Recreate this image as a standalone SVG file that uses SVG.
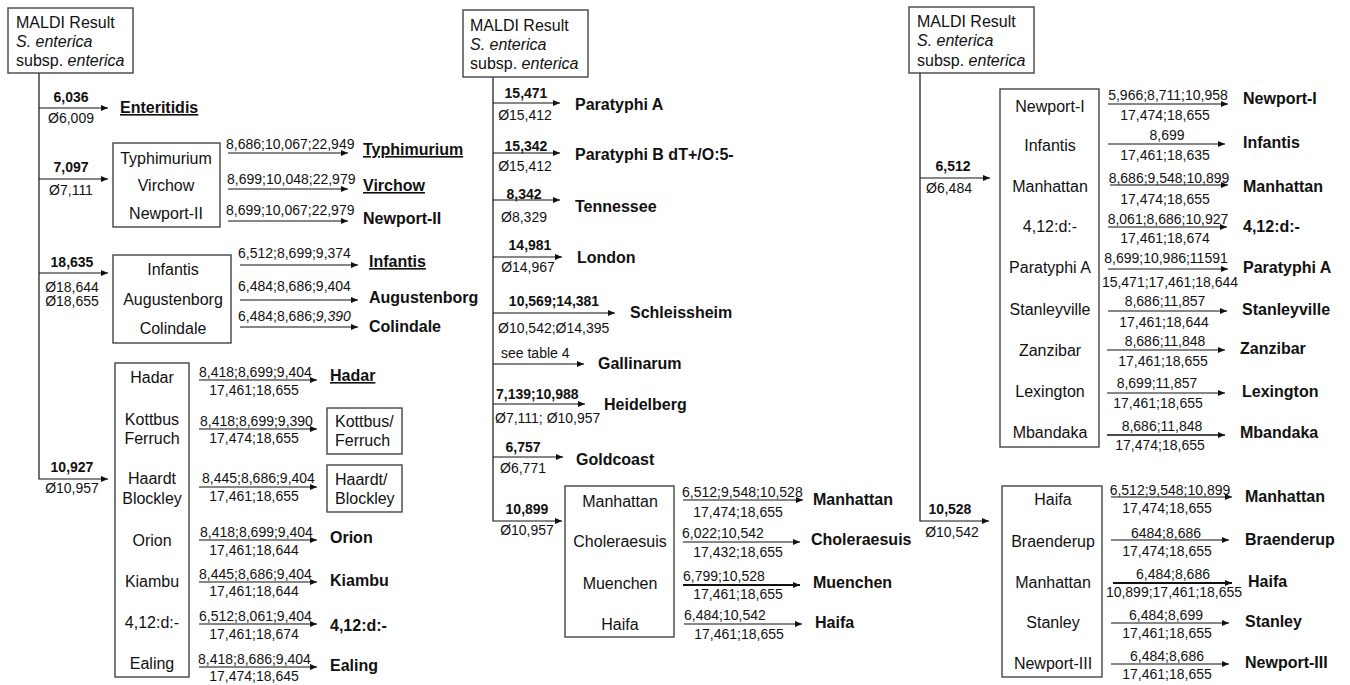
<svg xmlns="http://www.w3.org/2000/svg" width="1350" height="685" viewBox="0 0 1350 685">
<defs>
<marker id="ah" markerWidth="7" markerHeight="6" refX="7" refY="3" orient="auto" markerUnits="userSpaceOnUse"><path d="M0,0 L7,3 L0,6 z" fill="#111"/></marker>
<style>
text{font-family:"Liberation Sans",Arial,sans-serif;fill:#111}
.bx{fill:#fff;stroke:#444;stroke-width:1.4}
.ln{fill:none;stroke:#111;stroke-width:1.2;marker-end:url(#ah)}
.n{font-size:16px}
.r{font-size:16px;font-weight:bold}
.u{text-decoration:underline}
.b{font-size:14px;font-weight:bold}
.s{font-size:14px}
.m{text-anchor:middle}
</style>
</defs>
<rect width="1350" height="685" fill="#fff"/>

<!-- ===== connectors ===== -->
<g id="connectors">
<!-- left -->
<polyline class="ln" points="39,73 39,479 108,479"/>
<line class="ln" x1="39" y1="108" x2="108" y2="108"/>
<line class="ln" x1="39" y1="179" x2="108" y2="179"/>
<line class="ln" x1="39" y1="273" x2="108" y2="273"/>
<line class="ln" x1="228" y1="153" x2="348" y2="153"/>
<line class="ln" x1="228" y1="189" x2="348" y2="189"/>
<line class="ln" x1="228" y1="221" x2="348" y2="221"/>
<line class="ln" x1="240" y1="265" x2="358" y2="265"/>
<line class="ln" x1="240" y1="300" x2="358" y2="300"/>
<line class="ln" x1="240" y1="327" x2="358" y2="327"/>
<line class="ln" x1="199" y1="380" x2="317" y2="380"/>
<line class="ln" x1="199" y1="429" x2="317" y2="429"/>
<line class="ln" x1="199" y1="487" x2="317" y2="487"/>
<line class="ln" x1="199" y1="540" x2="317" y2="540"/>
<line class="ln" x1="199" y1="582" x2="317" y2="582"/>
<line class="ln" x1="199" y1="624" x2="317" y2="624"/>
<line class="ln" x1="199" y1="667" x2="317" y2="667"/>
<!-- middle -->
<polyline class="ln" points="493,77 493,521 562,521"/>
<line class="ln" x1="493" y1="103" x2="560" y2="103"/>
<line class="ln" x1="493" y1="153" x2="560" y2="153"/>
<line class="ln" x1="493" y1="200" x2="560" y2="200"/>
<line class="ln" x1="493" y1="257" x2="562" y2="257"/>
<line class="ln" x1="493" y1="313" x2="615" y2="313"/>
<line class="ln" x1="493" y1="364" x2="584" y2="364"/>
<line class="ln" x1="493" y1="404" x2="585" y2="404"/>
<line class="ln" x1="493" y1="457" x2="563" y2="457"/>
<line class="ln" x1="683" y1="500" x2="803" y2="500"/>
<line class="ln" x1="683" y1="542" x2="800" y2="542"/>
<line class="ln" x1="683" y1="585" x2="800" y2="585" style="stroke-width:1.8"/>
<line class="ln" x1="684" y1="624" x2="802" y2="624"/>
<!-- right -->
<polyline class="ln" points="920,73 920,521 989,521"/>
<line class="ln" x1="920" y1="178" x2="990" y2="178"/>
<line class="ln" x1="1108" y1="104" x2="1228" y2="104"/>
<line class="ln" x1="1108" y1="144" x2="1225" y2="144"/>
<line class="ln" x1="1110" y1="185" x2="1228" y2="185"/>
<line class="ln" x1="1108" y1="227" x2="1227" y2="227"/>
<line class="ln" x1="1108" y1="269" x2="1228" y2="269"/>
<line class="ln" x1="1108" y1="311" x2="1227" y2="311"/>
<line class="ln" x1="1107" y1="350" x2="1225" y2="350"/>
<line class="ln" x1="1107" y1="393" x2="1225" y2="393"/>
<line class="ln" x1="1107" y1="435" x2="1225" y2="435" style="stroke-width:1.6"/>
<line class="ln" x1="1111" y1="497" x2="1232" y2="497"/>
<line class="ln" x1="1111" y1="540" x2="1229" y2="540"/>
<line class="ln" x1="1113" y1="583" x2="1232" y2="583" style="stroke-width:1.8"/>
<line class="ln" x1="1111" y1="623" x2="1229" y2="623"/>
<line class="ln" x1="1111" y1="664" x2="1229" y2="664"/>

<!-- connector labels left -->
<text class="b m" x="71" y="102">6,036</text>
<text class="s m" x="71" y="123">Ø6,009</text>
<text class="b m" x="71" y="172">7,097</text>
<text class="s m" x="71" y="195">Ø7,111</text>
<text class="b m" x="72" y="267">18,635</text>
<text class="s m" x="72" y="292">Ø18,644</text>
<text class="s m" x="72" y="306">Ø18,655</text>
<text class="b m" x="72" y="472">10,927</text>
<text class="s m" x="72" y="493">Ø10,957</text>
<text class="s" x="226" y="149">8,686;10,067;22,949</text>
<text class="s" x="227" y="184">8,699;10,048;22,979</text>
<text class="s" x="226" y="215">8,699;10,067;22,979</text>
<text class="s" x="238" y="258">6,512;8,699;9,374</text>
<text class="s" x="238" y="291">6,484;8,686;9,404</text>
<text class="s" x="238" y="321">6,484;8,686;<tspan font-style="italic">9,390</tspan></text>
<text class="s" x="199" y="377">8,418;8,699;9,404</text>
<text class="s m" x="254" y="395">17,461;18,655</text>
<text class="s" x="200" y="426">8,418;8,699;9,390</text>
<text class="s m" x="254" y="443">17,474;18,655</text>
<text class="s" x="202" y="483">8,445;8,686;9,404</text>
<text class="s m" x="254" y="501">17,461;18,655</text>
<text class="s" x="200" y="537">8,418;8,699;9,404</text>
<text class="s m" x="254" y="555">17,461;18,644</text>
<text class="s" x="199" y="579">8,445;8,686;9,404</text>
<text class="s m" x="254" y="596">17,461;18,644</text>
<text class="s" x="199" y="621">6,512;8,061;9,404</text>
<text class="s m" x="254" y="639">17,461;18,674</text>
<text class="s" x="198" y="664">8,418;8,686;9,404</text>
<text class="s m" x="254" y="681">17,474;18,645</text>

<!-- connector labels middle -->
<text class="b m" x="526" y="98">15,471</text>
<text class="s m" x="525" y="120">Ø15,412</text>
<text class="b m" x="526" y="151">15,342</text>
<text class="s m" x="525" y="171">Ø15,412</text>
<text class="b m" x="524" y="199">8,342</text>
<text class="s m" x="524" y="222">Ø8,329</text>
<text class="b m" x="530" y="250">14,981</text>
<text class="s m" x="528" y="272">Ø14,967</text>
<text class="b m" x="554" y="306">10,569;14,381</text>
<text class="s" x="498" y="333">Ø10,542;Ø14,395</text>
<text class="s" x="501" y="358">see table 4</text>
<text class="b" x="496" y="399">7,139;10,988</text>
<text class="s" x="495" y="423">Ø7,111; Ø10,957</text>
<text class="b m" x="523" y="452">6,757</text>
<text class="s m" x="523" y="473">Ø6,771</text>
<text class="b m" x="527" y="514">10,899</text>
<text class="s m" x="527" y="535">Ø10,957</text>
<text class="s" x="682" y="497">6,512;9,548;10,528</text>
<text class="s m" x="738" y="517">17,474;18,655</text>
<text class="s" x="682" y="538">6,022;10,542</text>
<text class="s m" x="738" y="557">17,432;18,655</text>
<text class="s" x="683" y="581">6,799;10,528</text>
<text class="s m" x="738" y="599">17,461;18,655</text>
<text class="s" x="684" y="620">6,484;10,542</text>
<text class="s m" x="739" y="639">17,461;18,655</text>

<!-- connector labels right -->
<text class="b m" x="953" y="171">6,512</text>
<text class="s m" x="949" y="193">Ø6,484</text>
<text class="b m" x="950" y="514">10,528</text>
<text class="s m" x="952" y="537">Ø10,542</text>
<text class="s m" x="1168" y="100">5,966;8,711;10,958</text>
<text class="s m" x="1165" y="120">17,474;18,655</text>
<text class="s m" x="1167" y="140">8,699</text>
<text class="s m" x="1165" y="160">17,461;18,635</text>
<text class="s m" x="1169" y="183">8,686;9,548;10,899</text>
<text class="s m" x="1165" y="204">17,474;18,655</text>
<text class="s m" x="1168" y="224">8,061;8,686;10,927</text>
<text class="s m" x="1165" y="243">17,461;18,674</text>
<text class="s m" x="1166" y="263">8,699;10,986;11591</text>
<text class="s m" x="1170" y="287">15,471;17,461;18,644</text>
<text class="s m" x="1165" y="306">8,686;11,857</text>
<text class="s m" x="1164" y="327">17,461;18,644</text>
<text class="s m" x="1165" y="346">8,686;11,848</text>
<text class="s m" x="1163" y="366">17,461;18,655</text>
<text class="s m" x="1157" y="388">8,699;11,857</text>
<text class="s m" x="1158" y="408">17,461;18,655</text>
<text class="s m" x="1162" y="431">8,686;11,848</text>
<text class="s m" x="1160" y="450">17,474;18,655</text>
<text class="s m" x="1170" y="495">6,512;9,548;10,899</text>
<text class="s m" x="1167" y="513">17,474;18,655</text>
<text class="s m" x="1166" y="538">6484;8,686</text>
<text class="s m" x="1167" y="556">17,474;18,655</text>
<text class="s m" x="1173" y="579">6,484;8,686</text>
<text class="s m" x="1174" y="597">10,899;17,461;18,655</text>
<text class="s m" x="1166" y="620">6,484;8,699</text>
<text class="s m" x="1167" y="638">17,461;18,655</text>
<text class="s m" x="1167" y="661">6,484;8,686</text>
<text class="s m" x="1167" y="679">17,461;18,655</text>
</g>

<!-- ===== nodes: left panel ===== -->
<g id="root-left">
<rect class="bx" x="8" y="8" width="125" height="65"/>
<text class="n" x="16" y="28">MALDI Result</text>
<text class="n" x="16" y="47" font-style="italic">S. enterica</text>
<text class="n" x="16" y="66">subsp. <tspan font-style="italic">enterica</tspan></text>
</g>
<g id="res-enteritidis"><text class="r u" x="120" y="113">Enteritidis</text></g>
<g id="grp-typhimurium">
<rect class="bx" x="113" y="143" width="107" height="84"/>
<text class="n m" x="166" y="164">Typhimurium</text>
<text class="n m" x="166" y="191">Virchow</text>
<text class="n m" x="166" y="219">Newport-II</text>
</g>
<g id="res-typhimurium"><text class="r u" x="363" y="155">Typhimurium</text></g>
<g id="res-virchow"><text class="r u" x="363" y="191">Virchow</text></g>
<g id="res-newport2"><text class="r" x="363" y="224">Newport-II</text></g>
<g id="grp-infantis">
<rect class="bx" x="113" y="255" width="118" height="88"/>
<text class="n m" x="173" y="275">Infantis</text>
<text class="n m" x="173" y="305">Augustenborg</text>
<text class="n m" x="173" y="334">Colindale</text>
</g>
<g id="res-infantis"><text class="r u" x="369" y="267">Infantis</text></g>
<g id="res-augustenborg"><text class="r" x="369" y="303">Augustenborg</text></g>
<g id="res-colindale"><text class="r" x="369" y="332">Colindale</text></g>
<g id="grp-hadar">
<rect class="bx" x="115" y="363" width="74" height="314"/>
<text class="n m" x="152" y="383">Hadar</text>
<text class="n m" x="152" y="425">Kottbus</text>
<text class="n m" x="152" y="444">Ferruch</text>
<text class="n m" x="152" y="484">Haardt</text>
<text class="n m" x="152" y="504">Blockley</text>
<text class="n m" x="152" y="546">Orion</text>
<text class="n m" x="152" y="587">Kiambu</text>
<text class="n m" x="152" y="628">4,12:d:-</text>
<text class="n m" x="152" y="669">Ealing</text>
</g>
<g id="res-hadar"><text class="r u" x="330" y="381">Hadar</text></g>
<g id="res-kottbus">
<rect class="bx" x="327" y="408" width="75" height="46"/>
<text class="n" x="335" y="427">Kottbus/</text>
<text class="n" x="335" y="446">Ferruch</text>
</g>
<g id="res-haardt">
<rect class="bx" x="327" y="465" width="75" height="47"/>
<text class="n" x="335" y="485">Haardt/</text>
<text class="n" x="335" y="504">Blockley</text>
</g>
<g id="res-orion"><text class="r" x="330" y="543">Orion</text></g>
<g id="res-kiambu"><text class="r" x="330" y="586">Kiambu</text></g>
<g id="res-412-left"><text class="r" x="330" y="631">4,12:d:-</text></g>
<g id="res-ealing"><text class="r" x="330" y="671">Ealing</text></g>

<!-- ===== nodes: middle panel ===== -->
<g id="root-middle">
<rect class="bx" x="463" y="10" width="125" height="67"/>
<text class="n" x="470" y="31">MALDI Result</text>
<text class="n" x="470" y="50" font-style="italic">S. enterica</text>
<text class="n" x="470" y="69">subsp. <tspan font-style="italic">enterica</tspan></text>
</g>
<g id="res-paratyphiA-mid"><text class="r" x="575" y="110">Paratyphi A</text></g>
<g id="res-paratyphiB"><text class="r" x="575" y="160">Paratyphi B dT+/O:5-</text></g>
<g id="res-tennessee"><text class="r" x="575" y="212">Tennessee</text></g>
<g id="res-london"><text class="r" x="577" y="263">London</text></g>
<g id="res-schleissheim"><text class="r" x="630" y="318">Schleissheim</text></g>
<g id="res-gallinarum"><text class="r" x="598" y="369">Gallinarum</text></g>
<g id="res-heidelberg"><text class="r" x="604" y="410">Heidelberg</text></g>
<g id="res-goldcoast"><text class="r" x="576" y="465">Goldcoast</text></g>
<g id="grp-manhattan-mid">
<rect class="bx" x="565" y="486" width="109" height="151"/>
<text class="n m" x="620" y="507">Manhattan</text>
<text class="n m" x="620" y="547">Choleraesuis</text>
<text class="n m" x="620" y="589">Muenchen</text>
<text class="n m" x="620" y="630">Haifa</text>
</g>
<g id="res-manhattan-mid"><text class="r" x="813" y="505">Manhattan</text></g>
<g id="res-choleraesuis"><text class="r" x="811" y="545">Choleraesuis</text></g>
<g id="res-muenchen"><text class="r" x="813" y="588">Muenchen</text></g>
<g id="res-haifa-mid"><text class="r" x="815" y="628">Haifa</text></g>

<!-- ===== nodes: right panel ===== -->
<g id="root-right">
<rect class="bx" x="909" y="7" width="125" height="66"/>
<text class="n" x="917" y="27">MALDI Result</text>
<text class="n" x="917" y="46" font-style="italic">S. enterica</text>
<text class="n" x="917" y="66">subsp. <tspan font-style="italic">enterica</tspan></text>
</g>
<g id="grp-newport1">
<rect class="bx" x="1000" y="89" width="99" height="358"/>
<text class="n m" x="1050" y="112">Newport-I</text>
<text class="n m" x="1050" y="151">Infantis</text>
<text class="n m" x="1050" y="192">Manhattan</text>
<text class="n m" x="1050" y="232">4,12:d:-</text>
<text class="n m" x="1050" y="273">Paratyphi A</text>
<text class="n m" x="1050" y="315">Stanleyville</text>
<text class="n m" x="1050" y="356">Zanzibar</text>
<text class="n m" x="1050" y="397">Lexington</text>
<text class="n m" x="1050" y="438">Mbandaka</text>
</g>
<g id="res-newport1"><text class="r" x="1243" y="104">Newport-I</text></g>
<g id="res-infantis-right"><text class="r" x="1243" y="148">Infantis</text></g>
<g id="res-manhattan-right1"><text class="r" x="1243" y="192">Manhattan</text></g>
<g id="res-412-right"><text class="r" x="1243" y="232">4,12:d:-</text></g>
<g id="res-paratyphiA-right"><text class="r" x="1243" y="273">Paratyphi A</text></g>
<g id="res-stanleyville"><text class="r" x="1242" y="315">Stanleyville</text></g>
<g id="res-zanzibar"><text class="r" x="1240" y="354">Zanzibar</text></g>
<g id="res-lexington"><text class="r" x="1242" y="397">Lexington</text></g>
<g id="res-mbandaka"><text class="r" x="1240" y="438">Mbandaka</text></g>
<g id="grp-haifa-right">
<rect class="bx" x="1002" y="486" width="100" height="191"/>
<text class="n m" x="1053" y="505">Haifa</text>
<text class="n m" x="1053" y="547">Braenderup</text>
<text class="n m" x="1053" y="588">Manhattan</text>
<text class="n m" x="1053" y="628">Stanley</text>
<text class="n m" x="1053" y="669">Newport-III</text>
</g>
<g id="res-manhattan-right2"><text class="r" x="1245" y="502">Manhattan</text></g>
<g id="res-braenderup"><text class="r" x="1245" y="545">Braenderup</text></g>
<g id="res-haifa-right"><text class="r" x="1248" y="587">Haifa</text></g>
<g id="res-stanley"><text class="r" x="1245" y="627">Stanley</text></g>
<g id="res-newport3"><text class="r" x="1245" y="668">Newport-III</text></g>
</svg>
